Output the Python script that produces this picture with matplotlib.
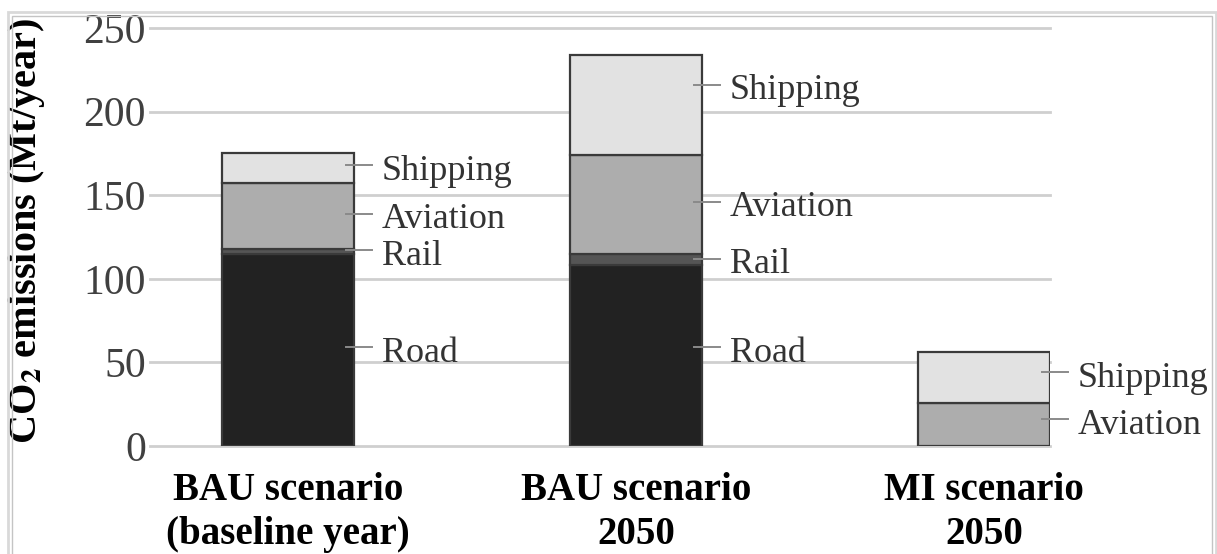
import matplotlib
matplotlib.use("Agg")
import matplotlib.pyplot as plt
from matplotlib.patches import Rectangle

# CO2 emissions by transport mode (Mt/year)
scenarios = ["BAU scenario\n(baseline year)", "BAU scenario\n2050", "MI scenario\n2050"]
modes = ["Road", "Rail", "Aviation", "Shipping"]
road = [115, 108, 0]
rail = [3, 7, 0]
aviation = [39, 59, 26]
shipping = [18, 60, 30]
yticks = [0, 50, 100, 150, 200, 250]

colors = ["#222222", "#555555", "#adadad", "#e2e2e2"]
# height at which each mode's label sits, per scenario
label_y = [
    {"Road": 59, "Rail": 117, "Aviation": 139, "Shipping": 168},
    {"Road": 59, "Rail": 112, "Aviation": 146, "Shipping": 216},
    {"Aviation": 16, "Shipping": 44},
]

plt.rcParams["font.family"] = ["Liberation Serif", "DejaVu Serif"]
plt.rcParams["mathtext.fontset"] = "stix"

fig = plt.figure(figsize=(12.17, 5.54), dpi=100)
ax = fig.add_axes([150 / 1217, 108 / 554, 900 / 1217, 418 / 554])

width = 0.38
series = [road, rail, aviation, shipping]
x = list(range(len(scenarios)))

for i in x:
    bottom = 0
    for mode, vals, col in zip(modes, series, colors):
        v = vals[i]
        if v <= 0:
            continue
        ax.bar(i, v, width=width, bottom=bottom, color=col,
               edgecolor="#3a3a3a", linewidth=1.6, zorder=3)
        bottom += v
    right = i + width / 2
    for mode, ly in label_y[i].items():
        ax.plot([right - 0.023, right + 0.052], [ly, ly], color="#8a8a8a",
                lw=1.4, zorder=4, clip_on=False)
        ax.annotate(mode, (right + 0.080, ly), xytext=(0, -10.4),
                    textcoords="offset points", fontsize=26, color="#333333",
                    va="baseline", ha="left", annotation_clip=False)

for t in yticks:
    ax.axhline(t, color="#cfcfcf", lw=2.0, zorder=1, clip_on=False)

ax.set_xlim(-0.397, 2 + width / 2)
ax.set_ylim(0, 250)
ax.set_yticks(yticks)
ax.set_yticklabels([str(t) for t in yticks], fontsize=30, color="#404040")
ax.set_xticks(x)
ax.set_xticklabels(scenarios, fontsize=28, fontweight="bold",
                   linespacing=1.25)
ax.tick_params(axis="both", length=0)
ax.tick_params(axis="y", pad=3)
ax.tick_params(axis="x", pad=19)
for s in ax.spines.values():
    s.set_visible(False)

ax.set_ylabel(r"CO$_\mathbf{2}$ emissions (Mt/year)", fontsize=29,
              fontweight="bold")
ax.yaxis.set_label_coords(-0.114, 0.515)

# thin frame around the figure
fig.add_artist(Rectangle((7.5 / 1217, -0.05), 1208 / 1217, 1.05 - 12 / 554,
                         transform=fig.transFigure, fill=False,
                         edgecolor="#d9d9d9", lw=2.0))
fig.add_artist(Rectangle((11.5 / 1217, -0.05), 1200 / 1217, 1.05 - 16 / 554,
                         transform=fig.transFigure, fill=False,
                         edgecolor="#c4c4c4", lw=1.0))

fig.savefig("out.png", dpi=100)
